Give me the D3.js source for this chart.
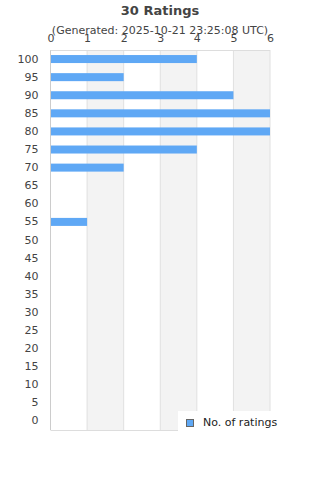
<!DOCTYPE html>
<html><head><meta charset="utf-8">
<script src="https://cdn.jsdelivr.net/npm/d3@7"></script>
<style>body{margin:0;background:#fff}svg{display:block}</style>
</head><body>
<script>
const categories = ["100","95","90","85","80","75","70","65","60","55","50","45","40","35","30","25","20","15","10","5","0"];
const ratings = [4,2,5,6,6,4,2,0,0,1,0,0,0,0,0,0,0,0,0,0,0];
const xTicks = [0,1,2,3,4,5,6];
const title = "30 Ratings";
const subtitle = "(Generated: 2025-10-21 23:25:08 UTC)";
const seriesName = "No. of ratings";

const W=320,H=480;
const m={left:50.5,right:50,top:50,bottom:50};
const svg=d3.select("body").append("svg").attr("width",W).attr("height",H);
const font="DejaVu Sans";
const x=d3.scaleLinear().domain([0,6]).range([m.left,270]);
const y=d3.scaleBand().domain(categories).range([m.top,430]);

// alternate bands
svg.append("g").selectAll("rect").data(xTicks.slice(0,-1).filter(d=>d%2===1)).join("rect")
 .attr("x",d=>x(d)).attr("width",d=>x(d+1)-x(d)).attr("y",m.top).attr("height",430-m.top).attr("fill","#f3f3f3");
// grid lines
svg.append("g").selectAll("line").data(xTicks).join("line")
 .attr("x1",d=>x(d)).attr("x2",d=>x(d)).attr("y1",m.top).attr("y2",430)
 .attr("stroke",d=>d===0?"#ccc":"#e0e0e0").attr("stroke-width",1);
svg.append("line").attr("x1",x(0)).attr("x2",x(6)).attr("y1",m.top+0.5).attr("y2",m.top+0.5).attr("stroke","#ddd");
svg.append("line").attr("x1",x(0)).attr("x2",x(6)).attr("y1",430.5).attr("y2",430.5).attr("stroke","#ddd");

// bars
svg.append("g").selectAll("rect").data(categories.map((c,i)=>({c,v:ratings[i]})).filter(d=>d.v>0)).join("rect")
 .attr("x",x(0)+0.5).attr("width",d=>x(d.v)-x(0)-0.5)
 .attr("y",d=>y(d.c)+y.bandwidth()/2-4).attr("height",8).attr("fill","#5fa8f5");

// top axis
const xa=svg.append("g").attr("transform",`translate(0,${m.top})`).call(d3.axisTop(x).tickValues(xTicks).tickFormat(d3.format("d")).tickSize(0).tickPadding(8));
xa.select(".domain").remove();
xa.selectAll("text").attr("font-family",font).attr("font-size",11).attr("fill","#444");
// left axis
const ya=svg.append("g").attr("transform",`translate(${m.left},0)`).call(d3.axisLeft(y).tickSize(0).tickPadding(12));
ya.select(".domain").remove();
ya.selectAll("text").attr("font-family",font).attr("font-size",11).attr("fill","#444");

svg.append("text").attr("x",160).attr("y",15).attr("text-anchor","middle").attr("font-family",font)
 .attr("font-size",13).attr("font-weight","bold").attr("fill","#444").text(title);
svg.append("text").attr("x",160).attr("y",34).attr("text-anchor","middle").attr("font-family",font)
 .attr("font-size",11).attr("fill","#444").text(subtitle);

// legend
const lg=svg.append("g");
lg.append("rect").attr("x",178).attr("y",411).attr("width",110).attr("height",20).attr("fill","#fff");
lg.append("rect").attr("x",186.5).attr("y",419.5).attr("width",7).attr("height",7).attr("fill","#5fa8f5").attr("stroke","#666");
lg.append("text").attr("x",203).attr("y",426).attr("font-family",font).attr("font-size",11).attr("fill","#222").text(seriesName);
</script>
</body></html>
